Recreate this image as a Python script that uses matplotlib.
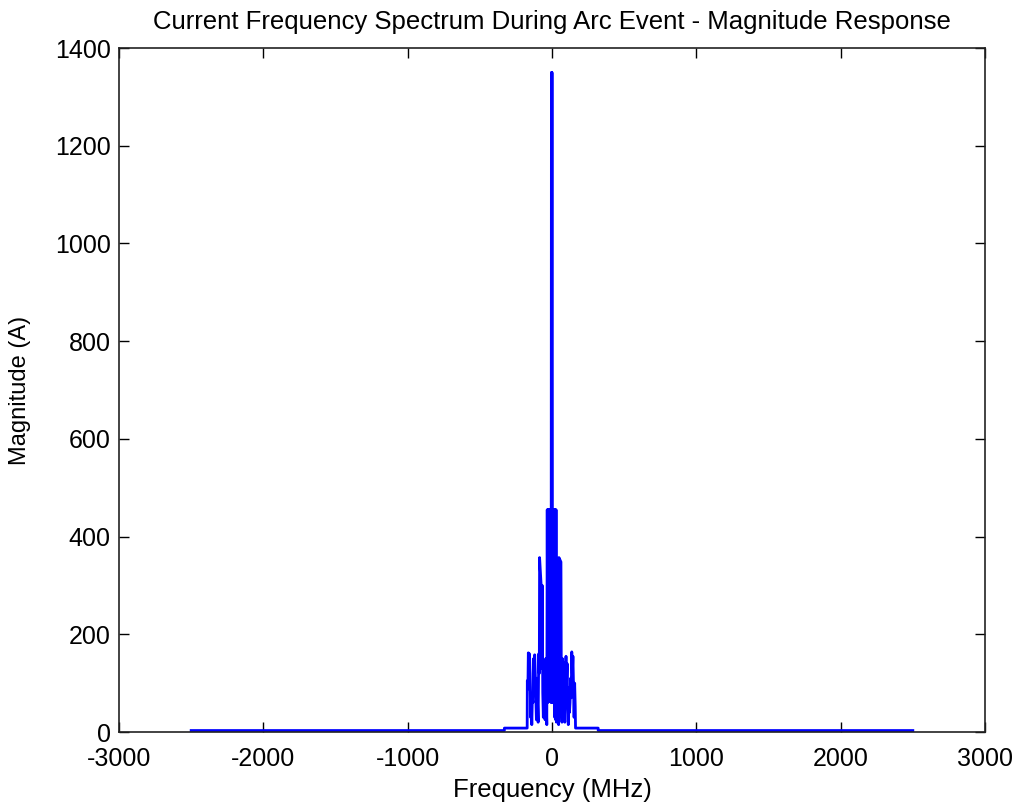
import matplotlib
matplotlib.use("Agg")
import matplotlib.pyplot as plt

plt.rcParams['font.family'] = ['Liberation Sans', 'DejaVu Sans']
plt.rcParams['axes.unicode_minus'] = False

# Frequency (MHz) and magnitude (A)
freq_mhz = [-2500, -330, -330, -172,
            -171, -167, -164, -160, -156, -152, -148, -144, -140, -136, -132, -128,
            -124, -120, -116, -112, -108, -104, -100, -96, -92, -88, -86, -75, -72,
            -68, -64, -60, -56, -52, -48, -44, -40, -36,
            -33, -30, -27, -24, -21, -18, -15, -12, -9, -6, -4, -2, 0, 2, 4, 7, 10,
            13, 16, 19, 22, 25, 28, 31,
            35, 39, 43, 46, 48, 62, 65, 69, 73, 77, 81, 85, 89, 93, 97, 101, 105,
            109, 113, 117, 121, 125, 129, 133, 137, 141, 145, 149, 153, 157, 161,
            163, 320, 320, 2500]
magnitude_a = [3, 3, 8, 8,
               105, 88, 162, 140, 160, 120, 30, 65, 15, 70, 60, 150,
               110, 158, 120, 70, 25, 110, 60, 20, 160, 120, 357, 299, 130,
               300, 80, 30, 130, 90, 25, 150, 60, 15,
               455, 60, 455, 70, 455, 62, 455, 65, 455, 60, 1350, 455, 1350, 60, 455, 62, 455,
               60, 455, 30, 455, 25, 455, 20,
               140, 330, 40, 15, 357, 348, 60, 20, 150, 80, 142, 60, 20, 120, 155, 100, 140,
               50, 15, 90, 40, 60, 110, 70, 164, 120, 155, 95, 30, 100, 52,
               8, 8, 3, 3]

x_ticks = [-3000, -2000, -1000, 0, 1000, 2000, 3000]
y_ticks = [0, 200, 400, 600, 800, 1000, 1200, 1400]

fig = plt.figure(figsize=(10.18, 8.06), dpi=100)
ax = fig.add_axes([119/1018, 1 - 732/806, (985-119)/1018, (732-48)/806])

ax.plot(freq_mhz, magnitude_a, color=(0, 0, 1), linewidth=2.0)

ax.set_xlim(-3000, 3000)
ax.set_ylim(0, 1400)
ax.set_xticks(x_ticks)
ax.set_yticks(y_ticks)
ax.tick_params(direction='in', top=True, right=True, length=7, width=1,
               labelsize=18, colors='black')
ax.tick_params(axis='x', pad=11)
ax.tick_params(axis='y', pad=6)
for s in ax.spines.values():
    s.set_color('#222222')
    s.set_linewidth(1.2)

ax.set_title('Current Frequency Spectrum During Arc Event - Magnitude Response',
             fontsize=18.5, pad=14)
ax.set_xlabel('Frequency (MHz)', fontsize=18.5, labelpad=5)
ax.set_ylabel('Magnitude (A)', fontsize=17, labelpad=17)

fig.savefig('out.png', dpi=100)
